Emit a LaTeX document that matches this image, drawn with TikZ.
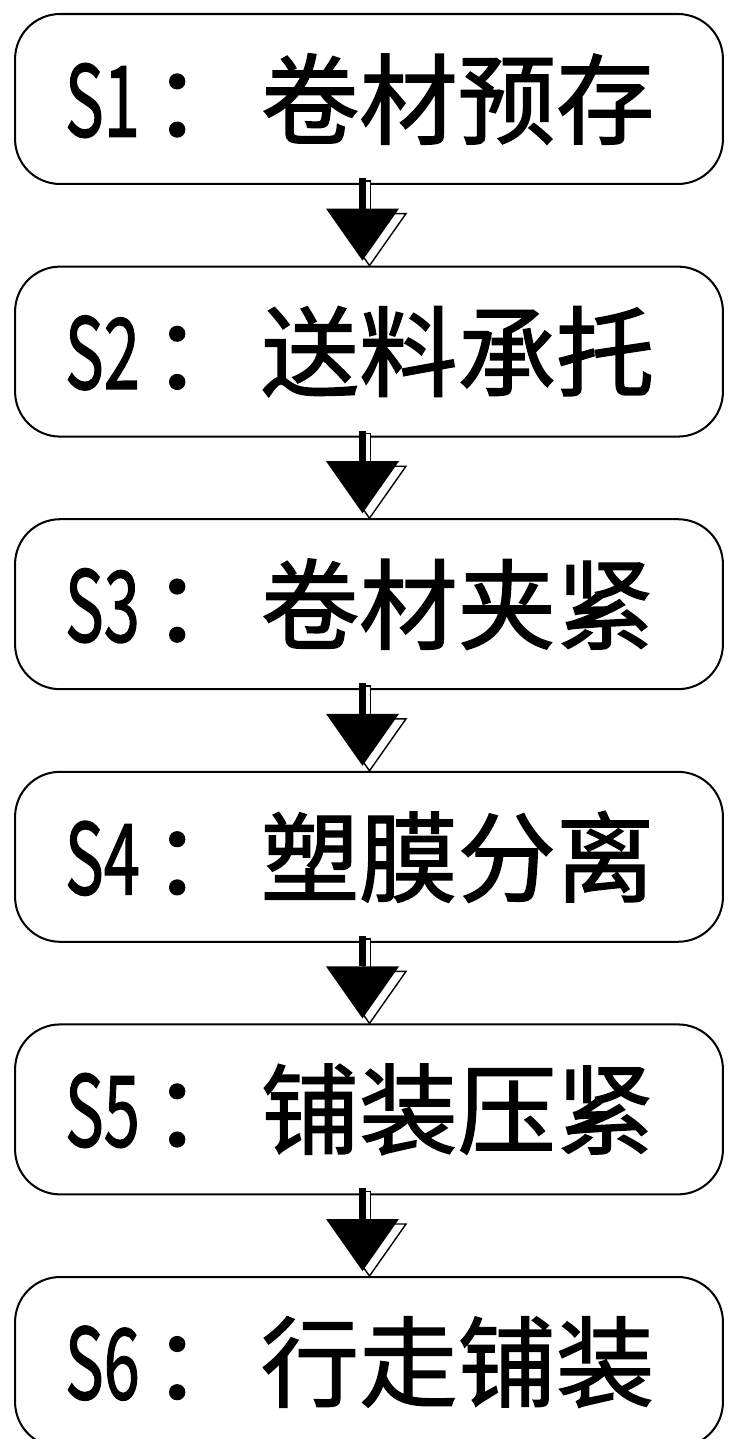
\documentclass[tikz,border=0pt]{standalone}
\usepackage{fontspec}
\usepackage{graphicx}
\setmainfont{Noto Sans CJK SC}[FakeBold=1.4]
\usetikzlibrary{calc}

\newcommand{\steplabel}[2]{\scalebox{0.66}[1]{#1}\hspace{0.13em}：\hspace{0.1em}#2}
\newcommand{\flowarrow}[2]{%
  \coordinate (p) at ($(#1.south)+(-6.5,0)$);
  \coordinate (q) at ($(#2.north)+(-6.5,0)$);
  \filldraw[fill=white,line width=0.8pt] ($(p)+(1,-4)$) rectangle ($(q)+(8,-52)$);
  \filldraw[fill=white,line width=0.8pt] ($(q)+(-29.5,-52)$) -- ($(q)+(43.5,-52)$) -- ($(q)+(7,0)$) -- cycle;
  \fill ($(p)+(-3.5,-7)$) rectangle ($(q)+(3.5,-57)$);
  \fill ($(q)+(-36.5,-57)$) -- ($(q)+(36.5,-57)$) -- ($(q)+(0,-5)$) -- cycle;
}

\begin{document}
\begin{tikzpicture}[x=0.02cm,y=-0.02cm,
    stepbox/.style={draw,line width=1.15pt,rounded corners=0.9cm,
      text width=12.16cm,inner xsep=1cm,minimum height=3.4cm,align=left,
      font=\fontsize{56pt}{60pt}\selectfont}]
        \useasboundingbox (0,0) rectangle (737,1452);
        \clip (0,0) rectangle (737,1438);
        \node[stepbox] (s1) at (369,99) {\steplabel{S1}{卷材预存}};
        \node[stepbox] (s2) at (369,351.6) {\steplabel{S2}{送料承托}};
        \node[stepbox] (s3) at (369,604.2) {\steplabel{S3}{卷材夹紧}};
        \node[stepbox] (s4) at (369,856.8) {\steplabel{S4}{塑膜分离}};
        \node[stepbox] (s5) at (369,1109.4) {\steplabel{S5}{铺装压紧}};
        \node[stepbox] (s6) at (369,1362) {\steplabel{S6}{行走铺装}};
        \flowarrow{s1}{s2}
        \flowarrow{s2}{s3}
        \flowarrow{s3}{s4}
        \flowarrow{s4}{s5}
        \flowarrow{s5}{s6}
    \end{tikzpicture}
\end{document}
